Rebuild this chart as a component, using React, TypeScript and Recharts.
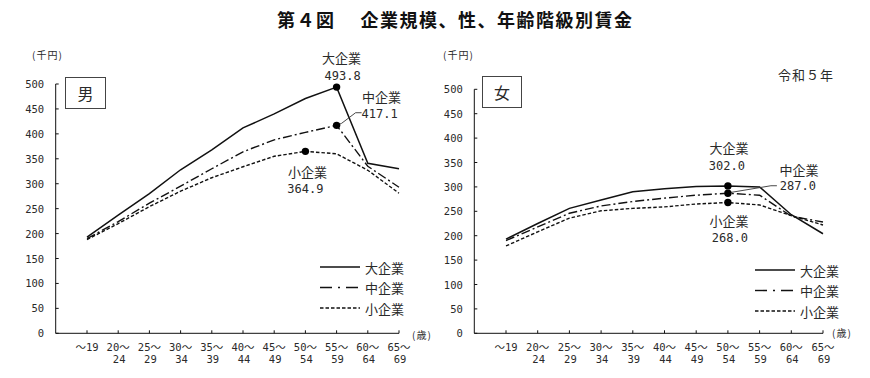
import React from 'react';
import { LineChart, Line, XAxis, YAxis, Legend } from 'recharts';

// ---- data ----
const ageCategories = ['～19', '20～24', '25～29', '30～34', '35～39', '40～44', '45～49', '50～54', '55～59', '60～64', '65～69'];
const ageLine1 = ['～19', '20～', '25～', '30～', '35～', '40～', '45～', '50～', '55～', '60～', '65～'];
const ageLine2 = ['', '24', '29', '34', '39', '44', '49', '54', '59', '64', '69'];

const maleLarge = [193, 237, 280, 328, 368, 412, 440, 471, 493.8, 341, 330];
const maleMedium = [190, 224, 261, 295, 330, 364, 388, 403, 417.1, 335, 293];
const maleSmall = [188, 220, 254, 285, 312, 334, 355, 364.9, 360, 327, 281];

const femaleLarge = [193, 225, 256, 273, 290, 296, 301, 302.0, 300, 243, 204];
const femaleMedium = [190, 218, 246, 261, 270, 277, 283, 287.0, 283, 240, 228];
const femaleSmall = [179, 208, 236, 251, 256, 259, 265, 268.0, 263, 241, 222];

const yTicks = [0, 50, 100, 150, 200, 250, 300, 350, 400, 450, 500];
const seriesNames = { large: '大企業', medium: '中企業', small: '小企業' };

// ---- styles ----
const JP = "'Noto Sans CJK JP', 'Noto Sans', sans-serif";
const MONO = "'DejaVu Sans Mono', 'Noto Sans CJK JP', monospace";
const INK = '#111';
const TXT = '#2a2a2a';
const seriesStyle: Record<string, { dash?: string; width: number }> = {
  large: { dash: undefined, width: 1.5 },
  medium: { dash: '9 3 2 3', width: 1.4 },
  small: { dash: '3.5 2', width: 1.4 },
};

type Ann = {
  index: number;
  nameDx: number; nameDy: number;
  valDx: number; valDy: number;
  leader?: [number, number][];
};

const buildRows = (l: number[], m: number[], s: number[]) =>
  ageCategories.map((c, i) => ({ cat: c, large: l[i], medium: m[i], small: s[i] }));

const makeDot = (key: 'large' | 'medium' | 'small', ann: Ann) => (props: any) => {
  const { cx, cy, index, payload } = props;
  if (index !== ann.index || cx == null || cy == null) return <g key={`${key}-d-${index}`} />;
  const v = Number(payload[key]).toFixed(1);
  return (
    <g key={`${key}-d-${index}`}>
      {ann.leader && (
        <polyline
          points={[[0, 0], ...ann.leader].map(([dx, dy]) => `${cx + dx},${cy + dy}`).join(' ')}
          fill="none"
          stroke="#333"
          strokeWidth={0.9}
        />
      )}
      <circle cx={cx} cy={cy} r={3.7} fill="#000" />
      <text x={cx + ann.nameDx} y={cy + ann.nameDy} textAnchor="middle" dominantBaseline="central"
        fontFamily={JP} fontSize={13} fill={TXT}>{seriesNames[key]}</text>
      <text x={cx + ann.valDx} y={cy + ann.valDy} textAnchor="middle" dominantBaseline="central"
        fontFamily={MONO} fontSize={12} fill={TXT}>{v}</text>
    </g>
  );
};

const YTick = (props: any) => {
  const { x, y, payload } = props;
  return (
    <g>
      <line x1={x} y1={y} x2={x + 3} y2={y} stroke={INK} strokeWidth={1} />
      <text x={x - 11.5} y={y} textAnchor="end" dominantBaseline="central" fontFamily={MONO} fontSize={10.5} fill={TXT}>
        {payload.value}
      </text>
    </g>
  );
};

const XTick = (props: any) => {
  const { x, y, index } = props;
  return (
    <g>
      <line x1={x} y1={y} x2={x} y2={y - 3} stroke={INK} strokeWidth={1} />
      <text x={x} y={y + 13.4} textAnchor="middle" dominantBaseline="central" fontFamily={MONO} fontSize={10.5} fill={TXT}>
        {ageLine1[index]}
      </text>
      <text x={x + 1} y={y + 25.8} textAnchor="middle" dominantBaseline="central" fontFamily={MONO} fontSize={10.5} fill={TXT}>
        {ageLine2[index]}
      </text>
    </g>
  );
};

const LegendBox = () => (
  <svg width={130} height={64} style={{ display: 'block' }}>
    {(['large', 'medium', 'small'] as const).map((k, i) => {
      const yy = 9 + i * 20.5;
      return (
        <g key={k}>
          <line x1={2} x2={42} y1={yy} y2={yy} stroke={INK}
            strokeWidth={seriesStyle[k].width}
            strokeDasharray={k === 'medium' ? '12 6 2 6' : seriesStyle[k].dash} />
          <text x={47} y={yy} dominantBaseline="central" fontFamily={JP} fontSize={13} fill={TXT}>
            {seriesNames[k]}
          </text>
        </g>
      );
    })}
  </svg>
);

type PanelProps = {
  left: number;
  width: number;
  rows: any[];
  axisX: number;
  plotRight: number;
  plotTop: number;
  plotBottom: number;
  padLeft: number;
  anns: { large: Ann; medium: Ann; small: Ann };
  legendPos: { left: number; top: number };
};

const Panel = (p: PanelProps) => {
  const H = 378;
  const xAxisH = 30;
  return (
    <div style={{ position: 'absolute', left: p.left, top: 0 }}>
      <LineChart
        width={p.width}
        height={H}
        data={p.rows}
        margin={{ top: p.plotTop, right: p.width - p.plotRight, bottom: H - p.plotBottom - xAxisH, left: 0 }}
      >
        <XAxis
          dataKey="cat"
          type="category"
          scale="point"
          padding={{ left: p.padLeft, right: 0 }}
          height={xAxisH}
          tickSize={0}
          tickMargin={0}
          tickLine={false}
          axisLine={{ stroke: INK, strokeWidth: 1 }}
          tick={<XTick />}
          interval={0}
        />
        <YAxis
          type="number"
          domain={[0, 500]}
          ticks={yTicks}
          width={p.axisX}
          tickSize={0}
          tickMargin={0}
          tickLine={false}
          axisLine={{ stroke: INK, strokeWidth: 1 }}
          tick={<YTick />}
          interval={0}
        />
        <Legend
          layout="vertical"
          align="center"
          verticalAlign="middle"
          wrapperStyle={{ left: p.legendPos.left, top: p.legendPos.top, width: 130, height: 64 }}
          content={() => <LegendBox />}
        />
        {(['large', 'medium', 'small'] as const).map((k) => (
          <Line
            key={k}
            dataKey={k}
            name={seriesNames[k]}
            type="linear"
            stroke={INK}
            strokeWidth={seriesStyle[k].width}
            strokeDasharray={seriesStyle[k].dash}
            dot={makeDot(k, p.anns[k])}
            activeDot={false}
            isAnimationActive={false}
          />
        ))}
      </LineChart>
    </div>
  );
};

const maleAnns = {
  large: { index: 8, nameDx: 5, nameDy: -30, valDx: 6, valDy: -11 },
  medium: { index: 8, nameDx: 45, nameDy: -29, valDx: 43, valDy: -11.5, leader: [[5, -2], [19, -12.6], [25, -12.6]] as [number, number][] },
  small: { index: 7, nameDx: 2, nameDy: 20, valDx: 0, valDy: 37.6 },
};
const femaleAnns = {
  large: { index: 7, nameDx: 1, nameDy: -38, valDx: -1, valDy: -20 },
  medium: { index: 7, nameDx: 71, nameDy: -23.5, valDx: 70, valDy: -7, leader: [[4, -1], [43, -7.5], [49, -7.5]] as [number, number][] },
  small: { index: 7, nameDx: 1, nameDy: 17.5, valDx: 2, valDy: 35 },
};

const textBase: React.CSSProperties = { position: 'absolute', whiteSpace: 'nowrap', color: TXT, lineHeight: 1 };

export default function App() {
  return (
    <div style={{ position: 'absolute', left: 0, top: 0, width: 870, height: 378, background: '#fff', overflow: 'hidden' }}>
      <div style={{ ...textBase, left: 277, top: 10, fontFamily: JP, fontWeight: 700, fontSize: 18, letterSpacing: 1.5, color: '#111' }}>
        第４図　 企業規模、性、年齢階級別賃金
      </div>

      <Panel
        left={0}
        width={440}
        rows={buildRows(maleLarge, maleMedium, maleSmall)}
        axisX={55.7}
        plotRight={399}
        plotTop={84}
        plotBottom={333.3}
        padLeft={31.3}
        anns={maleAnns}
        legendPos={{ left: 318, top: 258 }}
      />
      <Panel
        left={430}
        width={440}
        rows={buildRows(femaleLarge, femaleMedium, femaleSmall)}
        axisX={44.3}
        plotRight={393}
        plotTop={89.3}
        plotBottom={333.3}
        padLeft={31.7}
        anns={femaleAnns}
        legendPos={{ left: 323, top: 261 }}
      />

      {/* unit labels */}
      <div style={{ ...textBase, left: 32, top: 50, fontFamily: JP, fontSize: 10, letterSpacing: 1 }}>(千円)</div>
      <div style={{ ...textBase, left: 443, top: 50, fontFamily: JP, fontSize: 10, letterSpacing: 1 }}>(千円)</div>
      <div style={{ ...textBase, left: 412, top: 330, fontFamily: JP, fontSize: 10, letterSpacing: 1 }}>(歳)</div>
      <div style={{ ...textBase, left: 832, top: 328, fontFamily: JP, fontSize: 10, letterSpacing: 1 }}>(歳)</div>

      {/* panel boxes */}
      <div style={{ position: 'absolute', left: 65, top: 77, width: 39, height: 30, border: '1px solid #444', display: 'flex', alignItems: 'center', justifyContent: 'center', fontFamily: JP, fontSize: 16, color: TXT }}>男</div>
      <div style={{ position: 'absolute', left: 482, top: 76, width: 38, height: 30, border: '1px solid #444', display: 'flex', alignItems: 'center', justifyContent: 'center', fontFamily: JP, fontSize: 16, color: TXT }}>女</div>

      <div style={{ ...textBase, left: 778, top: 68, fontFamily: JP, fontSize: 13, letterSpacing: 1 }}>令和５年</div>
    </div>
  );
}
